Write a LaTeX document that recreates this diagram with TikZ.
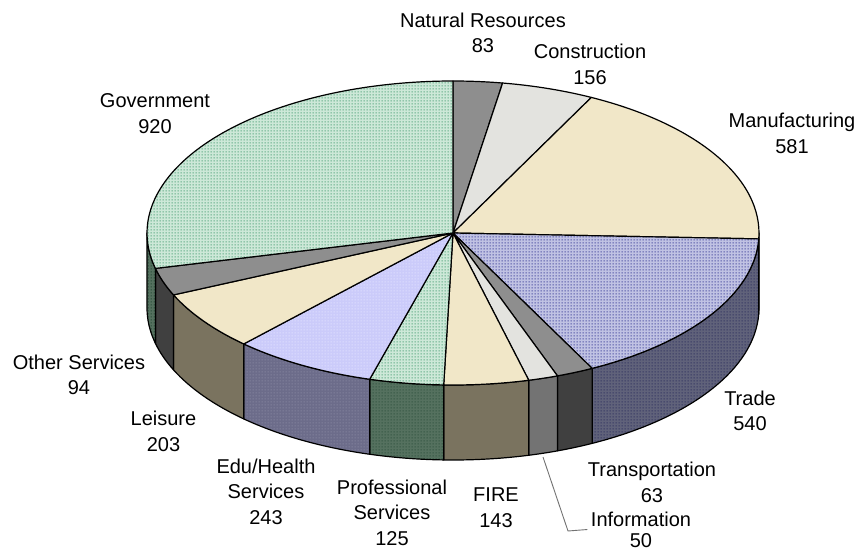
\documentclass[tikz,border=0pt]{standalone}
\usepackage{fontspec}
\setmainfont{Liberation Sans}
\usetikzlibrary{patterns.meta}

\definecolor{gris}{HTML}{8E8E8E}
\definecolor{grisosc}{HTML}{404040}
\definecolor{grisclaro}{HTML}{E3E3DF}
\definecolor{grismed}{HTML}{737373}
\definecolor{crema}{HTML}{F1E7C8}
\definecolor{caqui}{HTML}{7A735F}
\definecolor{lavanda}{HTML}{CBCBFA}
\definecolor{lavpt}{HTML}{E4E4FF}
\definecolor{lavosc}{HTML}{6C6C8A}
\definecolor{lavoscpt}{HTML}{8A8AA2}
\definecolor{verde}{HTML}{CDE8D8}
\definecolor{verdept}{HTML}{3F9A6C}
\definecolor{verdeosc}{HTML}{55715F}
\definecolor{verdeoscpt}{HTML}{2C4F3C}
\definecolor{azul}{HTML}{C0C2E3}
\definecolor{azulpt}{HTML}{2E3292}
\definecolor{azulosc}{HTML}{60627A}
\definecolor{azuloscpt}{HTML}{2A2C5C}

\tikzdeclarepattern{
  name=puntos,
  type=uncolored,
  bounding box={(0pt,0pt) and (3pt,3pt)},
  tile size={(3pt,3pt)},
  code={\fill (0.7pt,0.7pt) rectangle (2.3pt,2.3pt);}
}

% cara superior y lado de cada tajada
\newcommand{\cara}[3]{\filldraw[pieza,#3] (0,0) -- (#1:306 and 152)
  arc[start angle=#1,end angle=#2,x radius=306,y radius=152] -- cycle;}
\newcommand{\lado}[3]{\filldraw[pieza,#3] (#1:306 and 152)
  arc[start angle=#1,end angle=#2,x radius=306,y radius=152] -- ++(0,-75)
  arc[start angle=#2,end angle=#1,x radius=306,y radius=152] -- cycle;}

\tikzset{
  pieza/.style={draw=black,line width=1.2pt,line join=round},
  punteado/.style 2 args={preaction={fill=#1},pattern=puntos,pattern color=#2},
  etiq/.style={align=center,font=\fontsize{20}{25.5}\selectfont},
  guia/.style={draw=gris!80!black,line width=0.9pt}
}

\begin{document}
\begin{tikzpicture}[x=1pt,y=1pt]
  \useasboundingbox (-453,-319) rectangle (406,233);

  % lados
  \lado{0}{-2.22}{fill=caqui}
  \lado{-2.22}{-62.95}{punteado={azulosc}{azuloscpt}}
  \lado{-62.95}{-70.04}{fill=grisosc}
  \lado{-70.04}{-75.66}{fill=grismed}
  \lado{-75.66}{-91.74}{fill=caqui}
  \lado{-91.74}{-105.80}{punteado={verdeosc}{verdeoscpt}}
  \lado{-105.80}{-133.13}{punteado={lavosc}{lavoscpt}}
  \lado{-133.13}{-155.96}{fill=caqui}
  \lado{-155.96}{-166.53}{fill=grisosc}
  \lado{-166.53}{-180}{punteado={verdeosc}{verdeoscpt}}

  % caras
  \cara{90}{80.67}{fill=gris}
  \cara{80.67}{63.12}{fill=grisclaro}
  \cara{63.12}{-2.22}{fill=crema}
  \cara{-2.22}{-62.95}{punteado={azul}{azulpt}}
  \cara{-62.95}{-70.04}{fill=gris}
  \cara{-70.04}{-75.66}{fill=grisclaro}
  \cara{-75.66}{-91.74}{fill=crema}
  \cara{-91.74}{-105.80}{punteado={verde}{verdept}}
  \cara{-105.80}{-133.13}{punteado={lavanda}{lavpt}}
  \cara{-133.13}{-155.96}{fill=crema}
  \cara{-155.96}{-166.53}{fill=gris}
  \cara{-166.53}{-270}{punteado={verde}{verdept}}

  % etiquetas
  \node[etiq] (natres) at (30,200) {Natural Resources\\83};
  \node[etiq] (constr) at (137,168.5) {Construction\\156};
  \node[etiq] (manuf) at (339,99.5) {Manufacturing\\581};
  \node[etiq] (trade) at (297,-178) {Trade\\540};
  \node[etiq] (transp) at (199,-249.5) {Transportation\\63};
  \node[etiq,font=\fontsize{20}{21}\selectfont] (info) at (188,-296.5) {Information\\50};
  \node[etiq] (fire) at (43,-274.5) {FIRE\\143};
  \node[etiq] (prof) at (-61,-279.5) {Professional\\Services\\125};
  \node[etiq] (edu) at (-187,-258.5) {Edu/Health\\Services\\243};
  \node[etiq] (leis) at (-289.5,-198.5) {Leisure\\203};
  \node[etiq] (other) at (-374,-142) {Other Services\\94};
  \node[etiq] (gov) at (-298,119.5) {Government\\920};

  % linea guia
  \coordinate (pinfo) at (90,-224);
  \draw[guia] (pinfo) -- (115,-298) -- (info.west);
\end{tikzpicture}
\end{document}
